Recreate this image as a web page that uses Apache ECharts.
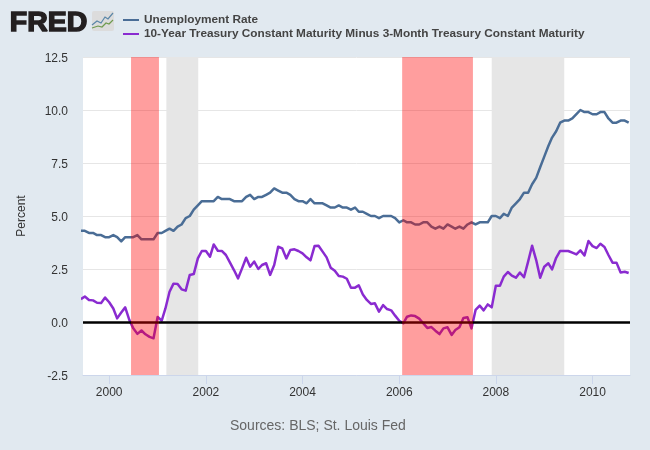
<!DOCTYPE html>
<html><head><meta charset="utf-8">
<style>html,body{margin:0;padding:0;background:#e1e9f0}#c{width:650px;height:450px}</style>
<script src="https://cdn.jsdelivr.net/npm/echarts@6/dist/echarts.min.js"></script>
</head><body><div id="c"></div>
<script>
var startYear = 1999, startMonth = 5;
var unemployment = [4.3,4.3,4.2,4.2,4.1,4.1,4.0,
 4.0,4.1,4.0,3.8,4.0,4.0,4.0,4.1,3.9,3.9,3.9,3.9,
 4.2,4.2,4.3,4.4,4.3,4.5,4.6,4.9,5.0,5.3,5.5,5.7,
 5.7,5.7,5.7,5.9,5.8,5.8,5.8,5.7,5.7,5.7,5.9,6.0,
 5.8,5.9,5.9,6.0,6.1,6.3,6.2,6.1,6.1,6.0,5.8,5.7,
 5.7,5.6,5.8,5.6,5.6,5.6,5.5,5.4,5.4,5.5,5.4,5.4,
 5.3,5.4,5.2,5.2,5.1,5.0,5.0,4.9,5.0,5.0,5.0,4.9,
 4.7,4.8,4.7,4.7,4.6,4.6,4.7,4.7,4.5,4.4,4.5,4.4,
 4.6,4.5,4.4,4.5,4.4,4.6,4.7,4.6,4.7,4.7,4.7,5.0,
 5.0,4.9,5.1,5.0,5.4,5.6,5.8,6.1,6.1,6.5,6.8,7.3,
 7.8,8.3,8.7,9.0,9.4,9.5,9.5,9.6,9.8,10.0,9.9,9.9,
 9.8,9.8,9.9,9.9,9.6,9.4,9.4,9.5,9.5,9.4];
var spread = [1.08,1.2,1.04,1.02,0.91,0.9,1.15,
 0.93,0.64,0.17,0.45,0.69,0.1,-0.3,-0.56,-0.4,-0.58,-0.7,-0.77,
 0.24,0.06,0.64,1.43,1.81,1.79,1.54,1.48,2.22,2.26,3.0,3.35,
 3.35,3.08,3.66,3.36,3.35,3.16,2.81,2.45,2.06,2.53,3.03,2.61,
 2.85,2.5,2.69,2.77,2.22,2.69,3.55,3.47,3.0,3.4,3.43,3.35,
 3.24,3.05,2.91,3.58,3.6,3.32,3.05,2.56,2.42,2.17,2.14,2.04,
 1.62,1.62,1.73,1.3,1.04,0.85,0.88,0.49,0.8,0.61,0.55,0.3,
 0.06,-0.06,0.25,0.31,0.28,0.16,-0.06,-0.28,-0.24,-0.41,-0.57,-0.3,
 -0.25,-0.61,-0.38,-0.25,0.19,0.22,-0.3,0.57,0.77,0.55,0.83,0.69,
 1.71,1.71,2.14,2.36,2.19,2.09,2.33,2.11,2.85,3.6,2.92,2.09,
 2.61,2.77,2.48,3.03,3.35,3.35,3.35,3.27,3.19,3.38,3.14,3.82,
 3.58,3.49,3.69,3.54,3.16,2.8,2.8,2.34,2.37,2.31];
var redBands = [["2000-06-14","2001-01-11"],["2006-01-23","2007-07-12"]];
var grayBands = [["2001-03-08","2001-11-04"],["2007-12-01","2009-06-01"]];
var tickYears = [2000,2002,2004,2006,2008,2010];
var seriesNames = ["Unemployment Rate","10-Year Treasury Constant Maturity Minus 3-Month Treasury Constant Maturity"];
var sourceText = "Sources: BLS; St. Louis Fed";

function ts(s){return Date.parse(s+"T00:00:00Z");}
function pairs(vals){return vals.map(function(v,i){return [Date.UTC(startYear,startMonth+i,1),v];});}
function areas(b){return b.map(function(p){return [{xAxis:ts(p[0])},{xAxis:ts(p[1])}];});}
var tickVals = tickYears.map(function(y){return Date.UTC(y,0,1);});

var chart = echarts.init(document.getElementById('c'),null,{renderer:'canvas'});
chart.setOption({
 animation:false,
 backgroundColor:'#e1e9f0',
 textStyle:{fontFamily:'"Liberation Sans",Arial,sans-serif'},
 legend:{
  orient:'vertical',left:123,top:13,padding:0,icon:'rect',itemWidth:16,itemHeight:2,itemGap:0,
  data:seriesNames,
  textStyle:{fontSize:11.8,fontWeight:'bold',color:'#444',lineHeight:14},
  selectedMode:false
 },
 grid:{left:83,top:57,width:547,height:318,show:true,backgroundColor:'#fff',borderWidth:0},
 xAxis:{
  type:'value',
  min:ts("1999-06-17"),max:ts("2010-10-11"),
  splitLine:{show:false},
  axisLine:{onZero:false,lineStyle:{color:'#ccd6eb',width:1}},
  axisTick:{length:9,lineStyle:{color:'#ccd6eb'},customValues:tickVals},
  axisLabel:{customValues:tickVals,color:'#333',fontSize:12,margin:12,hideOverlap:false,
   showMinLabel:true,showMaxLabel:true,
   formatter:function(v){return String(new Date(v).getUTCFullYear());}}
 },
 yAxis:{
  type:'value',min:-2.5,max:12.5,interval:2.5,
  name:'Percent',nameLocation:'middle',nameGap:55,nameRotate:90,
  nameTextStyle:{color:'#333',fontSize:12},
  axisLine:{show:false},axisTick:{show:false},
  splitLine:{lineStyle:{color:'#e6e6e6',width:1}},
  axisLabel:{color:'#333',fontSize:12,margin:15,verticalAlign:'top',lineHeight:4,
   verticalAlignMinLabel:'top',verticalAlignMaxLabel:'top',
   formatter:function(v){return v.toFixed(1);}}
 },
 series:[
  {name:seriesNames[0],type:'line',data:pairs(unemployment),showSymbol:false,z:3,
   lineStyle:{color:'#4a6d96',width:2.5,join:'round'},itemStyle:{color:'#4a6d96'},
   markArea:{silent:true,z:1,itemStyle:{color:'#e6e6e6'},data:areas(grayBands)}},
  {name:seriesNames[1],type:'line',data:pairs(spread),showSymbol:false,z:3,
   lineStyle:{color:'#8a2bd0',width:2.5,join:'round'},itemStyle:{color:'#8a2bd0'},
   markLine:{silent:true,z:4,symbol:'none',label:{show:false},
    lineStyle:{color:'#000',width:2.5,type:'solid'},data:[{yAxis:0}]}},
  {name:'recessions',type:'line',data:[],z:6,
   markArea:{silent:true,z:6,itemStyle:{color:'rgba(255,0,0,0.38)'},data:areas(redBands)}}
 ],
 graphic:[
  {type:'text',left:9,top:8,z:10,style:{text:'FRED',font:'bold 28.5px "Liberation Sans"',fill:'#231f20',stroke:'#231f20',lineWidth:1.5}},
  {type:'rect',shape:{x:92,y:11,width:22,height:20,r:2},style:{fill:'#dcdcdc'},z:10},
  {type:'polyline',shape:{points:[[92,25],[97,21],[101,23],[105,17],[108,19],[113,13]]},style:{stroke:'#5a86a8',fill:'none',lineWidth:1.2},z:11},
  {type:'polyline',shape:{points:[[92,28],[98,26],[102,27],[106,23],[109,24],[113,20]]},style:{stroke:'#6f9a4f',fill:'none',lineWidth:1.2},z:11},
  {type:'text',left:230,top:419,z:10,style:{text:sourceText,font:'14px "Liberation Sans"',fill:'#666'}}
 ]
});
</script></body></html>
